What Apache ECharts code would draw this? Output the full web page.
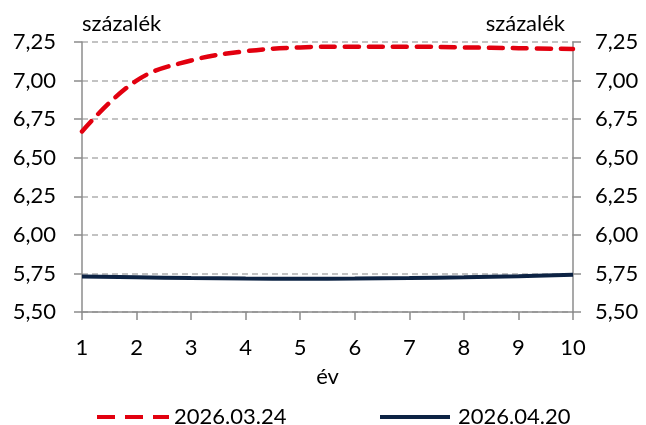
<!DOCTYPE html>
<html><head><meta charset="utf-8">
<script src="https://cdn.jsdelivr.net/npm/echarts@6/dist/echarts.min.js"></script>
<style>html,body{margin:0;padding:0;background:#fff}#c{width:646px;height:425px}</style>
</head><body><div id="c"></div>
<script>
const categories = ['1','2','3','4','5','6','7','8','9','10'];
const seriesNames = ['2026.03.24','2026.04.20'];
const redValues = [6.67, 7.00, 7.13, 7.19, 7.215, 7.22, 7.22, 7.215, 7.21, 7.205];
const navyValues = [5.73, 5.725, 5.72, 5.717, 5.716, 5.717, 5.72, 5.725, 5.732, 5.742];
const yMin = 5.5, yMax = 7.25, yStep = 0.25;
const unitLabel = 'százalék';
const xLabel = 'év';

const FONT = 'Lato, "Open Sans", sans-serif';
const FS = 22;
const RED = '#e2000f', NAVY = '#0d2344';
const fmt = v => v.toFixed(2).replace('.', ',');
function yAxis(pos, margin, align, pad) {
  return {
    type: 'value', min: yMin, max: yMax, interval: yStep, position: pos,
    axisLine: {show: true, lineStyle: {color: '#8c8c8c', width: 1.5}},
    axisTick: {show: true, length: 8, lineStyle: {color: '#8c8c8c', width: 1.5}},
    axisLabel: {formatter: fmt, color: '#000', fontSize: FS, fontFamily: FONT, margin: margin},
    splitLine: {show: true, lineStyle: {color: '#c0c0c0', type: [6, 4], width: 1.5}},
    name: unitLabel, nameGap: 7,
    nameTextStyle: {color: '#000', fontSize: FS, fontFamily: FONT, align: align, padding: pad}
  };
}
const dashIcon = 'path://M0,0h18v4h-18z M28,0h18v4h-18z M56,0h16v4h-16z';
const solidIcon = 'path://M0,0h70v4h-70z';
const chart = echarts.init(document.getElementById('c'));
chart.setOption({
  animation: false,
  grid: {left: 82, right: 73, top: 42, bottom: 113, containLabel: false},
  xAxis: {
    type: 'category', data: categories, boundaryGap: false,
    name: xLabel, nameLocation: 'middle', nameGap: 54,
    nameTextStyle: {color: '#000', fontSize: FS, fontFamily: FONT},
    axisLine: {show: true, lineStyle: {color: '#8c8c8c', width: 1.5}},
    axisTick: {show: true, length: 8, alignWithLabel: true, lineStyle: {color: '#8c8c8c', width: 1.5}},
    axisLabel: {color: '#000', fontSize: FS, fontFamily: FONT, margin: 25},
    splitLine: {show: false}
  },
  yAxis: [
    yAxis('left', 26, 'left', [0, 0, 0, 0]),
    yAxis('right', 22, 'right', [0, 8, 0, 0])
  ],
  legend: [
    {left: 92, top: 401, itemWidth: 72, itemHeight: 4, icon: dashIcon,
     textStyle: {color: '#000', fontSize: FS, fontFamily: FONT, padding: [0, 0, 0, 0]},
     data: [seriesNames[0]]},
    {left: 375, top: 401, itemWidth: 70, itemHeight: 4, icon: solidIcon,
     textStyle: {color: '#000', fontSize: FS, fontFamily: FONT, padding: [0, 0, 0, 3]},
     data: [seriesNames[1]]}
  ],
  series: [
    {name: seriesNames[0], type: 'line', data: redValues, smooth: 0.4, symbol: 'none',
     lineStyle: {color: RED, width: 4.5, type: [14, 10], cap: 'round'}, itemStyle: {color: RED}},
    {name: seriesNames[1], type: 'line', data: navyValues, smooth: 0.4, symbol: 'none',
     lineStyle: {color: NAVY, width: 4}, itemStyle: {color: NAVY}}
  ]
});
</script></body></html>
